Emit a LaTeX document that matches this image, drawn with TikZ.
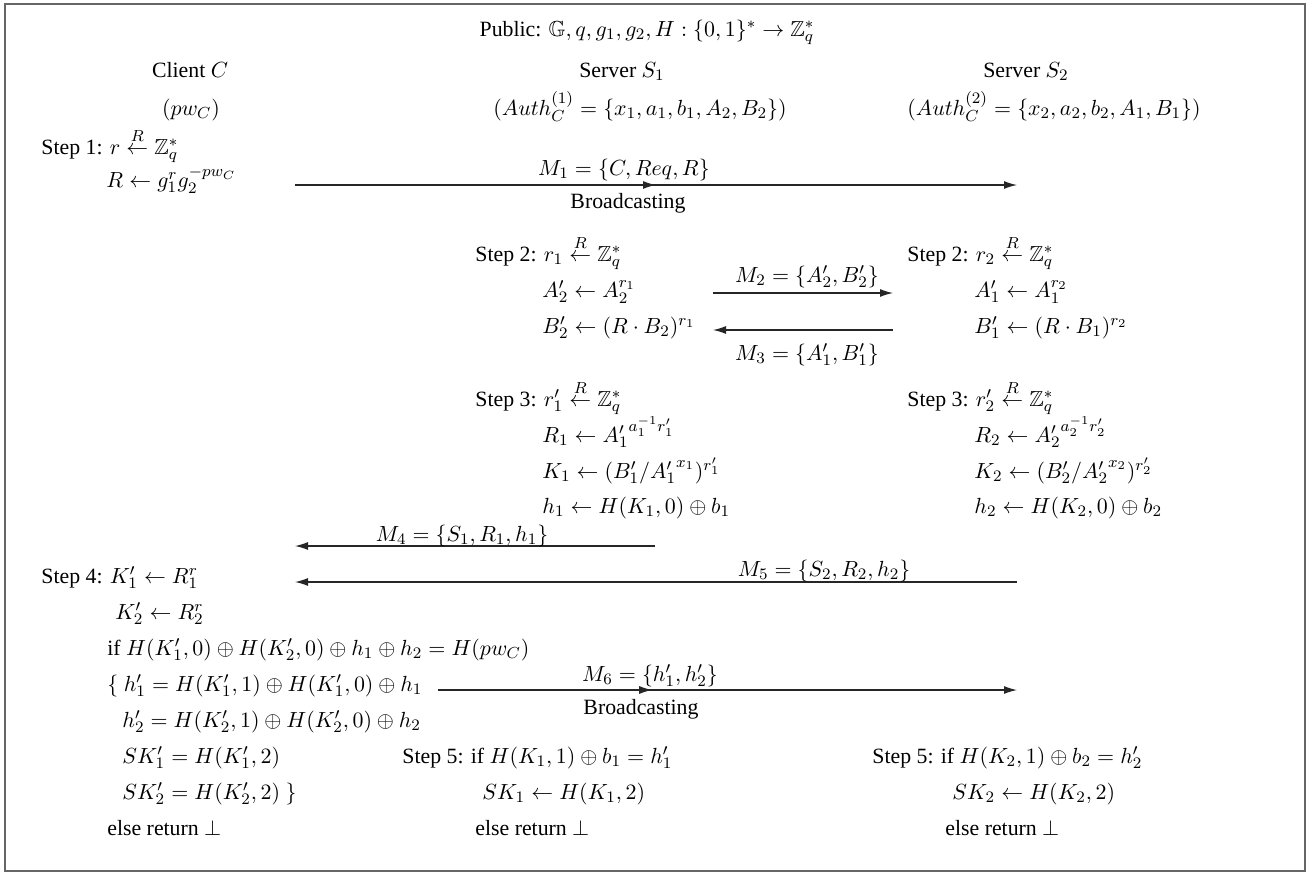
\documentclass[tikz,border=0pt]{standalone}
\usepackage{amsmath,amssymb}
\usepackage[no-math]{fontspec}
\setmainfont{Liberation Serif}
\usetikzlibrary{arrows.meta,decorations.markings}
\DeclareMathSizes{10.9}{10.9}{7.8}{6}
\newcommand\diafs{\fontsize{10.9}{13}\selectfont}
\begin{document}
\begin{tikzpicture}[x=0.5pt,y=-0.5pt,
  txt/.style={inner sep=0pt,anchor=base west,font=\diafs},
  ctr/.style={inner sep=0pt,anchor=base,font=\diafs},
  msg/.style={draw=black!85,line width=0.6pt,-{Latex[length=6.5pt,width=4pt]}},
  midarrow/.style={postaction={decorate},decoration={markings,
     mark=at position #1 with {\arrow{Latex[length=6.5pt,width=4pt]}}}},
  frame/.style={draw=black!60,line width=0.7pt}
]
\useasboundingbox (0,0) rectangle (1314,873);
\draw[frame] (5,4) rectangle (1305,871);

% header
\node[ctr] (pub) at (647,36) {Public: $\mathbb{G}, q, g_1, g_2, H : \{0,1\}^* \rightarrow \mathbb{Z}_q^*$};
\node[ctr] (cl) at (190,77) {Client $C$};
\node[ctr] (sv1) at (622,77) {Server $S_1$};
\node[ctr] (sv2) at (1026,77) {Server $S_2$};
\node[ctr] (pw) at (191,115) {$(pw_C)$};
\node[ctr] (au1) at (640,115) {$(Auth_C^{(1)} = \{x_1, a_1, b_1, A_2, B_2\})$};
\node[ctr] (au2) at (1054,115) {$(Auth_C^{(2)} = \{x_2, a_2, b_2, A_1, B_1\})$};

% client step 1
\node[txt] (c1) at (41,154) {Step 1: $r \stackrel{R}{\leftarrow} \mathbb{Z}_q^*$};
\node[txt] (c2) at (106,187) {$R \leftarrow g_1^r g_2^{-pw_C}$};

% server 1 steps 2,3
\node[txt] (a1) at (475,261) {Step 2: $r_1 \stackrel{R}{\leftarrow} \mathbb{Z}_q^*$};
\node[txt] (a2) at (542,297) {$A_2' \leftarrow A_2^{r_1}$};
\node[txt] (a3) at (542,333) {$B_2' \leftarrow (R\cdot B_2)^{r_1}$};
\node[txt] (a4) at (475,406) {Step 3: $r_1' \stackrel{R}{\leftarrow} \mathbb{Z}_q^*$};
\node[txt] (a5) at (542,442) {$R_1 \leftarrow {A_1'}^{a_1^{-1} r_1'}$};
\node[txt] (a6) at (542,478) {$K_1 \leftarrow (B_1'/{A_1'}^{x_1})^{r_1'}$};
\node[txt] (a7) at (542,513) {$h_1 \leftarrow H(K_1,0) \oplus b_1$};

% server 2 steps 2,3
\node[txt] (b1) at (907,261) {Step 2: $r_2 \stackrel{R}{\leftarrow} \mathbb{Z}_q^*$};
\node[txt] (b2) at (974,297) {$A_1' \leftarrow A_1^{r_2}$};
\node[txt] (b3) at (974,333) {$B_1' \leftarrow (R\cdot B_1)^{r_2}$};
\node[txt] (b4) at (907,406) {Step 3: $r_2' \stackrel{R}{\leftarrow} \mathbb{Z}_q^*$};
\node[txt] (b5) at (974,442) {$R_2 \leftarrow {A_2'}^{a_2^{-1} r_2'}$};
\node[txt] (b6) at (974,478) {$K_2 \leftarrow (B_2'/{A_2'}^{x_2})^{r_2'}$};
\node[txt] (b7) at (974,513) {$h_2 \leftarrow H(K_2,0) \oplus b_2$};

% client step 4
\node[txt] (d1) at (41,583) {Step 4: $K_1' \leftarrow R_1^r$};
\node[txt] (d2) at (115,619) {$K_2' \leftarrow R_2^r$};
\node[txt] (d3) at (107,655) {if $H(K_1',0) \oplus H(K_2',0) \oplus h_1 \oplus h_2 = H(pw_C)$};
\node[txt] (d4) at (107,691) {$\{\ h_1' = H(K_1',1) \oplus H(K_1',0) \oplus h_1$};
\node[txt] (d5) at (122,727) {$h_2' = H(K_2',1) \oplus H(K_2',0) \oplus h_2$};
\node[txt] (d6) at (122,763) {$SK_1' = H(K_1',2)$};
\node[txt] (d7) at (122,799) {$SK_2' = H(K_2',2)\ \}$};
\node[txt] (d8) at (107,835) {else return $\bot$};

% step 5
\node[txt] (e1) at (402,763) {Step 5: if $H(K_1,1) \oplus b_1 = h_1'$};
\node[txt] (e2) at (482,799) {$SK_1 \leftarrow H(K_1,2)$};
\node[txt] (e3) at (475,835) {else return $\bot$};
\node[txt] (f1) at (872,763) {Step 5: if $H(K_2,1) \oplus b_2 = h_2'$};
\node[txt] (f2) at (952,799) {$SK_2 \leftarrow H(K_2,2)$};
\node[txt] (f3) at (945,835) {else return $\bot$};

% message endpoints
\coordinate (m1s) at (295,185);  \coordinate (m1e) at (1017,185);
\coordinate (m2s) at (713,293);  \coordinate (m2e) at (893,293);
\coordinate (m3s) at (893,330);  \coordinate (m3e) at (713,330);
\coordinate (m4s) at (655,546);  \coordinate (m4e) at (295,546);
\coordinate (m5s) at (1017,582); \coordinate (m5e) at (295,582);
\coordinate (m6s) at (438,690);  \coordinate (m6e) at (1017,690);

\draw[msg,midarrow=0.5] (m1s) -- (m1e);
\draw[msg] (m2s) -- (m2e);
\draw[msg] (m3s) -- (m3e);
\draw[msg] (m4s) -- (m4e);
\draw[msg] (m5s) -- (m5e);
\draw[msg,midarrow=0.37] (m6s) -- (m6e);

% message labels
\node[ctr] (l1) at (624,175) {$M_1 = \{C, Req, R\}$};
\node[ctr] (l1b) at (628,208) {Broadcasting};
\node[ctr] (l2) at (807,282) {$M_2 = \{A_2', B_2'\}$};
\node[ctr] (l3) at (807,360) {$M_3 = \{A_1', B_1'\}$};
\node[ctr] (l4) at (462,541) {$M_4 = \{S_1, R_1, h_1\}$};
\node[ctr] (l5) at (824,576) {$M_5 = \{S_2, R_2, h_2\}$};
\node[ctr] (l6) at (650,681) {$M_6 = \{h_1', h_2'\}$};
\node[ctr] (l6b) at (641,714) {Broadcasting};
\end{tikzpicture}
\end{document}
